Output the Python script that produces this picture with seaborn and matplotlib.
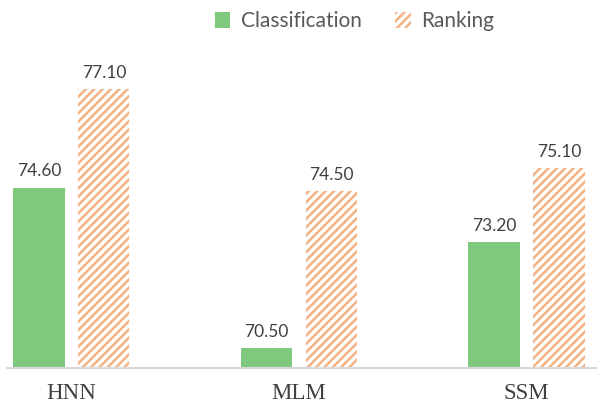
import matplotlib
matplotlib.use('Agg')
import matplotlib.pyplot as plt
import pandas as pd
import seaborn as sns

# data
models = ['HNN', 'MLM', 'SSM']
classification = [74.60, 70.50, 73.20]
ranking = [77.10, 74.50, 75.10]

df = pd.DataFrame({
    'model': models * 2,
    'score': classification + ranking,
    'task': ['Classification'] * 3 + ['Ranking'] * 3,
})

sns.set_style('white')
plt.rcParams['hatch.linewidth'] = 1.8

fig = plt.figure(figsize=(5.97, 4.05), dpi=100)
ax = fig.add_axes([7 / 597, 37 / 405, 1 - 7 / 597, 1 - 37 / 405])

green = '#7fc97f'
orange = '#f4b183'
sns.barplot(data=df, x='model', y='score', hue='task', order=models,
            palette=[green, orange], width=0.57, gap=0.21, ax=ax,
            legend=False)

# style the two series
for p in ax.containers[0]:
    p.set_facecolor(green)
    p.set_edgecolor('none')
for p in ax.containers[1]:
    p.set_facecolor('white')
    p.set_edgecolor(orange)
    p.set_hatch('////')
    p.set_linewidth(0)

for c in ax.containers:
    ax.bar_label(c, fmt='%.2f', padding=6, fontsize=12.5, color='#404040',
                 family='Lato')

ax.set_ylim(70, 79.38)
ax.set_xlim(-0.283, 2.31)
ax.set_xlabel('')
ax.set_ylabel('')
ax.set_yticks([])
for s in ['left', 'top', 'right']:
    ax.spines[s].set_visible(False)
ax.spines['bottom'].set_color('#d9d9d9')
ax.spines['bottom'].set_linewidth(1.5)

ax.set_xticks(range(len(models)))
ax.set_xticklabels(models, fontsize=16.5, family='Liberation Serif', color='#404040')
ax.tick_params(axis='x', which='major', length=0, pad=11)
ax.set_xticks([0.5, 1.5], minor=True)
ax.tick_params(axis='x', which='minor', length=8, width=1, color='#d9d9d9')

ax.legend(handles=[ax.containers[0][0], ax.containers[1][0]],
          labels=['Classification', 'Ranking'], loc='upper center',
          bbox_to_anchor=(0.589, 1.02), ncol=2, frameon=False,
          handlelength=0.75, handleheight=0.75, handletextpad=0.5,
          columnspacing=1.6, prop={'family': 'Lato', 'size': 15},
          labelcolor='#595959')

fig.savefig('out.png', dpi=100)
